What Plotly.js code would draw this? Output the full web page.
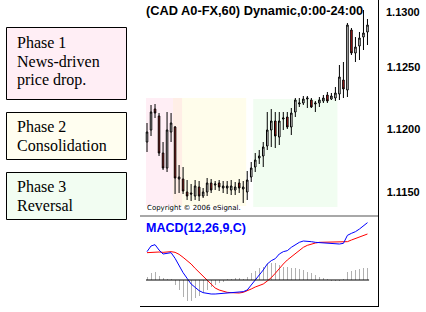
<!DOCTYPE html>
<html><head><meta charset="utf-8">
<script src="https://cdn.plot.ly/plotly-3.0.1.min.js"></script>
<style>html,body{margin:0;padding:0;background:#fff}#c{width:426px;height:312px}</style>
</head><body><div id="c"></div>
<script>
// Hourly bars, CAD A0-FX, 60 min
const openP  = [1.11900,1.11996,1.12164,1.12108,1.11812,1.11692,1.11980,1.12020,1.11604,1.11604,
                1.11500,1.11492,1.11468,1.11540,1.11468,1.11500,1.11572,1.11556,1.11572,1.11532,
                1.11532,1.11516,1.11516,1.11572,1.11524,1.11500,1.11620,1.11700,1.11772,1.11788,
                1.11868,1.11996,1.12068,1.11940,1.12084,1.12100,1.12020,1.12140,1.12204,1.12212,
                1.12244,1.12236,1.12204,1.12212,1.12228,1.12276,1.12244,1.12252,1.12284,1.12396,
                1.12316,1.12796,1.12612,1.12668,1.12740,1.12780];
const highP  = [1.12052,1.12196,1.12204,1.12132,1.11900,1.12140,1.12132,1.12028,1.11716,1.11700,
                1.11596,1.11564,1.11596,1.11588,1.11532,1.11612,1.11604,1.11588,1.11596,1.11588,
                1.11588,1.11596,1.11580,1.11604,1.11588,1.11668,1.11740,1.11812,1.11836,1.11900,
                1.12140,1.12164,1.12140,1.12140,1.12140,1.12140,1.12172,1.12252,1.12252,1.12268,
                1.12268,1.12252,1.12228,1.12260,1.12276,1.12300,1.12292,1.12340,1.12516,1.12540,
                1.12852,1.12812,1.12740,1.12780,1.12956,1.12884];
const lowP   = [1.11820,1.11948,1.12092,1.11788,1.11676,1.11660,1.11900,1.11484,1.11492,1.11484,
                1.11436,1.11428,1.11436,1.11428,1.11452,1.11468,1.11492,1.11516,1.11508,1.11492,
                1.11484,1.11476,1.11476,1.11492,1.11412,1.11436,1.11580,1.11660,1.11724,1.11700,
                1.11836,1.11860,1.11852,1.11876,1.11996,1.12004,1.11956,1.12100,1.12180,1.12196,
                1.12172,1.12172,1.12140,1.12180,1.12212,1.12212,1.12236,1.12228,1.12236,1.12252,
                1.12260,1.12596,1.12540,1.12556,1.12636,1.12676];
const closeP = [1.11980,1.12140,1.12132,1.11812,1.11692,1.11996,1.12052,1.11612,1.11620,1.11508,
                1.11468,1.11484,1.11548,1.11468,1.11500,1.11572,1.11516,1.11564,1.11540,1.11548,
                1.11548,1.11548,1.11540,1.11532,1.11540,1.11596,1.11692,1.11756,1.11788,1.11860,
                1.11996,1.12068,1.11948,1.12068,1.12092,1.12020,1.12132,1.12236,1.12212,1.12244,
                1.12252,1.12180,1.12212,1.12236,1.12252,1.12228,1.12268,1.12292,1.12420,1.12324,
                1.12836,1.12612,1.12660,1.12732,1.12772,1.12836];
// MACD(12,26,9) in pips
const macdLine = [8.5,10.2,10.6,9.0,7.8,7.9,8.2,6.5,4.2,2.2,0.5,-1.2,-2.2,-3.2,-3.8,-4.1,-4.2,-4.2,-4.1,-3.9,
                  -3.7,-3.6,-3.6,-3.6,-3.5,-3.0,-1.5,0.0,1.4,3.0,4.8,5.8,6.4,7.8,8.5,8.8,9.8,10.6,11.3,11.7,
                  11.7,11.5,11.3,11.2,11.2,11.1,10.8,10.7,10.8,11.0,13.4,14.0,14.5,15.3,16.2,17.2];
const signalLine = [8.2,8.3,8.4,8.4,8.3,8.4,8.5,8.3,7.7,6.8,5.9,4.8,3.5,2.3,1.0,-0.2,-1.5,-2.4,-3.0,-3.4,
                  -3.7,-3.8,-3.9,-3.9,-3.7,-3.3,-2.7,-2.1,-1.6,-1.2,-0.3,0.7,2.0,3.5,4.8,6.0,7.0,8.0,9.0,9.8,
                  10.4,10.8,11.1,11.3,11.3,11.3,11.3,11.3,11.3,11.4,11.5,12.0,12.5,13.0,13.4,13.8];
const histo = [1.0,2.2,2.5,1.2,0.5,0.2,0.2,-1.5,-3.0,-5.0,-6.2,-6.2,-5.5,-4.8,-4.0,-3.0,-2.2,-1.5,-1.0,-0.5,
               0.3,0.4,0.5,0.5,0.3,0.8,2.0,2.8,3.5,4.0,5.0,5.2,5.0,4.5,4.0,3.8,3.6,3.5,3.3,3.0,
               2.5,2.0,1.5,0.8,0.5,0.2,-0.3,-0.3,-0.2,0.3,2.5,2.8,3.0,3.3,3.5,3.5];
const priceTicks = [1.1150,1.1200,1.1250];
const priceTickText = ['<b>1.1150</b>','<b>1.1200</b>','<b>1.1250</b>'];
const topTickText = '1.1300';
const titleText = '(CAD A0-FX,60) Dynamic,0:00-24:00';
const macdTitle = 'MACD(12,26,9,C)';
const phaseLines = [['Phase 1','News-driven','price drop.'],['Phase 2','Consolidation'],['Phase 3','Reversal']];

const idx = openP.map((_, i) => i);
const W = 426, H = 312;
const px = x => x / W, py = y => 1 - y / H;

const traces = [
  {type:'bar', x:idx, y:histo, xaxis:'x', yaxis:'y2', width:0.25,
   marker:{color:'#b0b0b0', line:{width:0}}, hoverinfo:'skip'},
  {type:'scatter', mode:'lines', x:idx, y:signalLine, xaxis:'x', yaxis:'y2',
   line:{color:'#ff0000', width:1}},
  {type:'scatter', mode:'lines', x:idx, y:macdLine, xaxis:'x', yaxis:'y2',
   line:{color:'#0000ff', width:1}},
  {type:'candlestick', x:idx, open:openP, high:highP, low:lowP, close:closeP, xaxis:'x', yaxis:'y',
   increasing:{line:{color:'#000', width:1}, fillcolor:'#ffffff'},
   decreasing:{line:{color:'#000', width:1}, fillcolor:'#dd2020'}, whiskerwidth:0}
];

const shapes = [
  {type:'rect', xref:'x', yref:'paper', x0:-0.25, x1:8.75, y0:py(206), y1:py(98), fillcolor:'#ffeef5', line:{width:0}, layer:'below'},
  {type:'rect', xref:'x', yref:'paper', x0:6.5, x1:24.75, y0:py(206), y1:py(98), fillcolor:'#fffdeb', line:{width:0}, layer:'below'},
  {type:'rect', xref:'x', yref:'paper', x0:6.5, x1:8.75, y0:py(206), y1:py(98), fillcolor:'#ffeee6', line:{width:0}, layer:'below'},
  {type:'rect', xref:'x', yref:'paper', x0:26.5, x1:47.5, y0:py(207), y1:py(99), fillcolor:'#f1fdf1', line:{width:0}, layer:'below'},
  {type:'line', xref:'paper', yref:'paper', x0:px(378.5), x1:px(378.5), y0:py(0), y1:py(307), line:{color:'#000', width:1}},
  {type:'line', xref:'paper', yref:'paper', x0:px(140), x1:px(378.5), y0:py(306.5), y1:py(306.5), line:{color:'#000', width:1}},
  {type:'line', xref:'paper', yref:'paper', x0:px(140), x1:px(378), y0:py(216), y1:py(216), line:{color:'#a8a8a8', width:2}},
  {type:'line', xref:'x', yref:'y2', x0:-0.25, x1:55.4, y0:0, y1:0, line:{color:'#000', width:1.2}},
  {type:'rect', xref:'paper', yref:'paper', x0:px(6.5), x1:px(126.5), y0:py(99.5), y1:py(27.5), fillcolor:'#ffeef5', line:{color:'#000', width:1}},
  {type:'rect', xref:'paper', yref:'paper', x0:px(6.5), x1:px(126.5), y0:py(159.5), y1:py(112.5), fillcolor:'#fffef0', line:{color:'#000', width:1}},
  {type:'rect', xref:'paper', yref:'paper', x0:px(6.5), x1:px(126.5), y0:py(219.5), y1:py(172.5), fillcolor:'#f2fdf2', line:{color:'#000', width:1}}
];

const ann = [];
const add = (text, x, y, font) => ann.push({text, x:px(x), y:py(y), xref:'paper', yref:'paper',
  xanchor:'left', yanchor:'middle', showarrow:false, font, borderpad:0});
const serif = {family:'"Liberation Serif", "Times New Roman", serif', size:16, color:'#000'};
const sans = '"Liberation Sans", Arial, sans-serif';
const lineY = [[43,62,80],[126,145],[186,205]];
phaseLines.forEach((lines, b) => lines.forEach((t, k) => add(t, 16, lineY[b][k], serif)));
add('<b>' + titleText + '</b>', 145, 11, {family:sans, size:12.8, color:'#000'});
add('<b>' + macdTitle + '</b>', 145, 228, {family:sans, size:12.5, color:'#0000ff'});
add('Copyright © 2006 eSignal.', 146, 208, {family:'"DejaVu Sans", Verdana, sans-serif', size:7, color:'#000'});
add('<b>' + topTickText + '</b>', 385, 12, {family:sans, size:11, color:'#000'});

const layout = {
  width:W, height:H, margin:{l:0, r:0, t:0, b:0}, paper_bgcolor:'#fff', plot_bgcolor:'rgba(0,0,0,0)',
  showlegend:false, boxgap:0.45, bargap:0,
  xaxis:{domain:[px(140), px(378.5)], range:[-1.75, 57.75], visible:false, fixedrange:true,
         rangeslider:{visible:false}, anchor:'y'},
  yaxis:{domain:[py(216), 1], range:[1.13036 - 0.00008*216, 1.13036], side:'right', anchor:'x',
         showgrid:false, zeroline:false, showline:false, tickvals:priceTicks, ticktext:priceTickText,
         ticks:'outside', ticklen:5, tickcolor:'rgba(0,0,0,0)',
         tickfont:{family:sans, size:11, color:'#000'}},
  yaxis2:{domain:[py(306), py(218)], range:[-7.8, 18.6], anchor:'x', visible:false, fixedrange:true},
  shapes, annotations:ann
};
Plotly.newPlot('c', traces, layout, {staticPlot:true, displayModeBar:false});
</script></body></html>
